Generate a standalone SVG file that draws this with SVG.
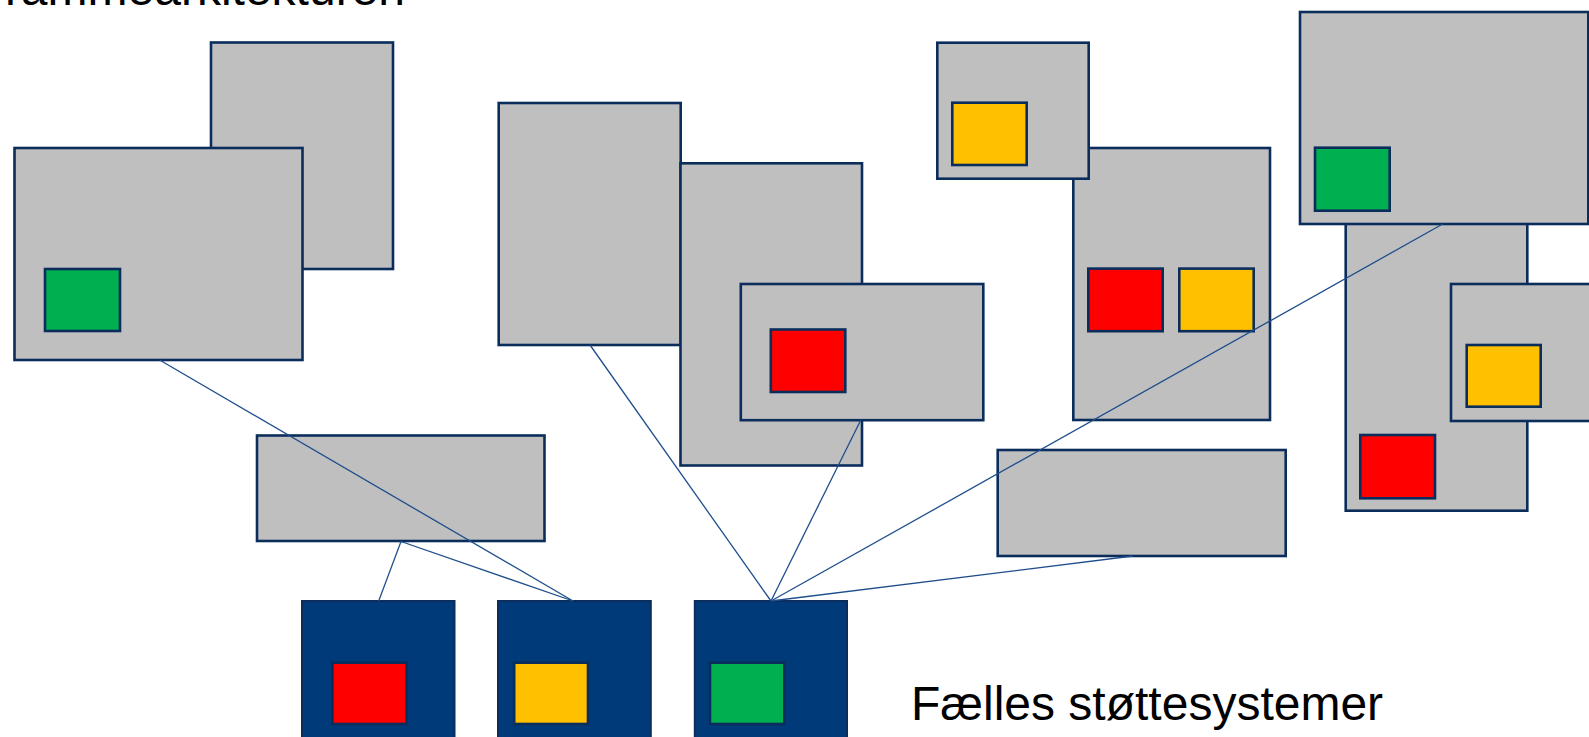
<svg xmlns="http://www.w3.org/2000/svg" width="1589" height="737" viewBox="0 0 1589 737">
<style>
.box{fill:#BFBFBF;stroke:#0B2D5B;stroke-width:2.6}
.sys{fill:#003A78;stroke:#0B2D5B;stroke-width:2}
.r{fill:#FF0000;stroke:#0B2D5B;stroke-width:2.6}
.y{fill:#FFC000;stroke:#0B2D5B;stroke-width:2.6}
.g{fill:#00B050;stroke:#0B2D5B;stroke-width:2.6}
.c{stroke:#1F4E8C;stroke-width:1.3;fill:none}
.t{font-family:"Liberation Sans",Arial,sans-serif;font-size:48px;fill:#000}
</style>
<rect width="1589" height="737" fill="#FFFFFF"/>
<text class="t" x="405" y="5" text-anchor="end">rammearkitekturen</text>
<g id="nodeA"><rect class="box" x="211" y="42.5" width="182" height="226.5"/></g>
<g id="nodeB"><rect class="box" x="14.5" y="148" width="288" height="212"/><rect class="g" x="45" y="269" width="75" height="62"/></g>
<g id="nodeC"><rect class="box" x="257" y="435.5" width="287.5" height="105.5"/></g>
<g id="nodeD"><rect class="box" x="498.7" y="103" width="182" height="242"/></g>
<g id="nodeE"><rect class="box" x="680.5" y="163.3" width="181.5" height="302.2"/></g>
<g id="nodeF"><rect class="box" x="740.8" y="284" width="242.5" height="136.2"/><rect class="r" x="770.8" y="329.5" width="74.5" height="62.5"/></g>
<g id="nodeH"><rect class="box" x="1073.3" y="148" width="196.7" height="272"/><rect class="r" x="1088.3" y="268.6" width="74.4" height="62.6"/><rect class="y" x="1179.3" y="268.6" width="74.4" height="62.6"/></g>
<g id="nodeG"><rect class="box" x="937.3" y="42.7" width="151.4" height="136"/><rect class="y" x="952.3" y="102.7" width="74.4" height="62.3"/></g>
<g id="nodeI"><rect class="box" x="1345.7" y="150" width="181.6" height="360.7"/><rect class="r" x="1360.3" y="435" width="74.7" height="63.3"/></g>
<g id="nodeJ"><rect class="box" x="1300" y="12" width="288.3" height="212"/><rect class="g" x="1315" y="147.7" width="74.7" height="63"/></g>
<g id="nodeK"><rect class="box" x="1451" y="284" width="150" height="137"/><rect class="y" x="1466.7" y="345" width="74" height="61.7"/></g>
<g id="nodeL"><rect class="box" x="997.7" y="450" width="288" height="106"/></g>
<g id="sys1"><rect class="sys" x="302" y="601" width="152.5" height="150"/><rect class="r" x="332.4" y="662.7" width="74.3" height="61.3"/></g>
<g id="sys2"><rect class="sys" x="498" y="601" width="152.8" height="150"/><rect class="y" x="514.2" y="662.7" width="73.8" height="61.3"/></g>
<g id="sys3"><rect class="sys" x="694.8" y="601" width="152.2" height="150"/><rect class="g" x="710" y="662.7" width="74.4" height="61.3"/></g>
<text class="t" x="911" y="720">Fælles støttesystemer</text>
<g id="connectors">
<line class="c" x1="159.6" y1="360" x2="573" y2="601"/>
<line class="c" x1="401" y1="541.5" x2="378.7" y2="601"/>
<line class="c" x1="401" y1="541.5" x2="573" y2="601"/>
<line class="c" x1="590" y1="345" x2="771" y2="601"/>
<line class="c" x1="860.7" y1="420.2" x2="771" y2="601"/>
<line class="c" x1="1442.7" y1="224" x2="771" y2="601"/>
<line class="c" x1="1133" y1="556" x2="771" y2="601"/>
</g>
</svg>
